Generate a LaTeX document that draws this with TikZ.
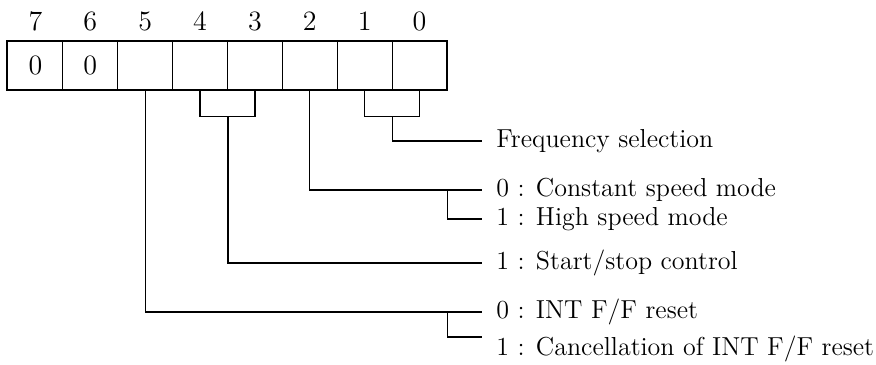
\documentclass[tikz,border=0pt]{standalone}
\usepackage{tikz}
\usetikzlibrary{positioning,calc}

\begin{document}
\begin{tikzpicture}[
  x=0.5pt, y=-0.5pt,
  font=\fontsize{13}{15}\selectfont,
  cell/.style={draw, line width=0.5pt, minimum width=27.44pt,
               minimum height=24pt, inner sep=0pt},
  bitnum/.style={inner sep=0pt, anchor=base, font=\fontsize{14}{16}\selectfont},
  desc/.style={anchor=west, inner xsep=7pt, inner ysep=0pt},
  wire/.style={line width=0.6pt},
]
  \useasboundingbox (0,0) rectangle (876,364);

  % register cells, bit 7 on the left
  \foreach \b in {7,...,0}{
    \node[cell] (b\b) at ({35.4+(7-\b)*54.875},65) {};
    \node[bitnum] (n\b) at ($(b\b.north)+(0,-10)$) {\b};
  }
  \node[font=\fontsize{14}{16}\selectfont] (z7) at (b7.center) {0};
  \node[font=\fontsize{14}{16}\selectfont] (z6) at (b6.center) {0};
  \draw[line width=1pt] (b7.north west) rectangle (b0.south east);

  % descriptions
  \node[desc] (freq)     at (482,141) {Frequency selection};
  \node[desc] (const)    at (482,190) {0 : Constant speed mode};
  \node[desc] (high)     at (482,219) {1 : High speed mode};
  \node[desc] (start)    at (482,263) {1 : Start/stop control};
  \node[desc] (intreset) at (482,312) {0 : INT F/F reset};
  \node[desc] (cancel)   at (482,349) {1 : Cancellation of INT F/F reset};

  % bits 1,0
  \draw[wire] (b1.south) -- ++(0,27) -| (b0.south);
  \draw[wire] ($(b1.south east)+(0,27)$) |- (freq.west);

  % bit 2
  \draw[wire] (b2.south) |- (const.west);
  \draw[wire] (b0.south east |- const.west) |- (high.west);

  % bits 4,3
  \draw[wire] (b4.south) -- ++(0,27) -| (b3.south);
  \draw[wire] ($(b4.south east)+(0,27)$) |- (start.west);

  % bit 5
  \draw[wire] (b5.south) |- (intreset.west);
  \draw[wire] (b0.south east |- intreset.west) |- ($(cancel.west)+(0,-12)$);
\end{tikzpicture}
\end{document}
